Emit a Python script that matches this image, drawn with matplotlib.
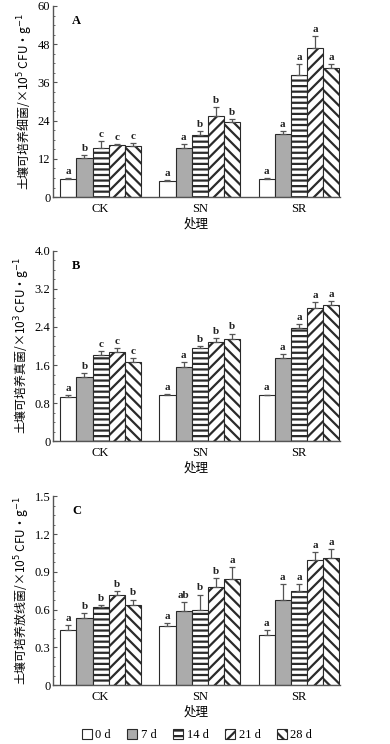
import matplotlib
matplotlib.use("Agg")
import matplotlib.pyplot as plt
import numpy as np
from matplotlib.ticker import MultipleLocator, AutoMinorLocator, FuncFormatter

plt.rcParams['font.family'] = ['Liberation Serif', 'Noto Sans CJK SC', 'DejaVu Sans']
plt.rcParams['hatch.linewidth'] = 1.6

groups = ['CK', 'SN', 'SR']
days = ['0 d', '7 d', '14 d', '21 d', '28 d']

# Panel A: bacteria
a_vals = [[5.8, 12.3, 15.4, 16.3, 16.2],
          [5.2, 15.4, 19.6, 25.6, 23.6],
          [5.8, 19.7, 38.3, 46.9, 40.6]]
a_err = [[0.2, 1.0, 2.2, 0.3, 0.8],
         [0.3, 1.2, 1.2, 2.7, 0.8],
         [0.2, 1.1, 3.4, 3.8, 1.1]]
a_sig = [['a', 'b', 'c', 'c', 'c'],
         ['a', 'a', 'b', 'b', 'b'],
         ['a', 'a', 'a', 'a', 'a']]

# Panel B: fungi
b_vals = [[0.93, 1.35, 1.81, 1.87, 1.67],
          [0.97, 1.56, 1.96, 2.09, 2.15],
          [0.96, 1.75, 2.38, 2.80, 2.85]]
b_err = [[0.03, 0.08, 0.08, 0.09, 0.08],
         [0.02, 0.11, 0.03, 0.08, 0.11],
         [0.02, 0.08, 0.08, 0.12, 0.10]]
b_sig = [['a', 'b', 'c', 'c', 'c'],
         ['a', 'a', 'b', 'b', 'b'],
         ['a', 'a', 'a', 'a', 'a']]

# Panel C: actinomycetes
c_vals = [[0.44, 0.53, 0.62, 0.72, 0.64],
          [0.47, 0.59, 0.60, 0.78, 0.84],
          [0.40, 0.68, 0.75, 0.99, 1.01]]
c_err = [[0.04, 0.04, 0.02, 0.03, 0.04],
         [0.02, 0.07, 0.12, 0.07, 0.10],
         [0.04, 0.12, 0.05, 0.07, 0.07]]
c_sig = [['a', 'b', 'b', 'b', 'b'],
         ['a', 'ab', 'b', 'b', 'a'],
         ['a', 'a', 'a', 'a', 'a']]

ylabels = ['土壤可培养细菌/×10$^5$ CFU·g$^{-1}$',
           '土壤可培养真菌/×10$^3$ CFU·g$^{-1}$',
           '土壤可培养放线菌/×10$^5$ CFU·g$^{-1}$']
panel_letters = ['A', 'B', 'C']
ylims = [60, 4.0, 1.5]
ysteps = [12, 0.8, 0.3]

faces = ['white', '#ababab', 'white', 'white', 'white']
hatches = [None, None, '---', '///', '\\\\\\']
edge = '#2a2a2a'

fig = plt.figure(figsize=(3.9, 7.44), dpi=100)
axes_pos = [[0.136, 0.735, 0.736, 0.257],
            [0.136, 0.407, 0.736, 0.256],
            [0.136, 0.079, 0.736, 0.254]]

datasets = [(a_vals, a_err, a_sig), (b_vals, b_err, b_sig), (c_vals, c_err, c_sig)]
x = np.arange(len(groups))
w = 0.163
handles = []
for pi, (vals, errs, sigs) in enumerate(datasets):
    ax = fig.add_axes(axes_pos[pi])
    vals = np.array(vals)
    errs = np.array(errs)
    for di in range(len(days)):
        xs = x + (di - 2) * w
        bars = ax.bar(xs, vals[:, di], w, color=faces[di], edgecolor=edge,
                      linewidth=0.8, hatch=hatches[di], label=days[di], zorder=2)
        ax.errorbar(xs, vals[:, di], yerr=[np.zeros(3), errs[:, di]], fmt='none',
                    ecolor='#555555', elinewidth=0.9, capsize=2.2, capthick=0.9, zorder=3)
        for gi in range(len(groups)):
            ax.annotate(sigs[gi][di], (xs[gi], vals[gi, di] + errs[gi, di]),
                        xytext=(0, 1.5), textcoords='offset points',
                        ha='center', va='bottom', fontsize=8, fontweight='bold',
                        color='#222222')
        if pi == 0:
            handles.append(bars)
    ax.set_xlim(-0.48, 2.415)
    ax.set_ylim(0, ylims[pi])
    ax.yaxis.set_major_locator(MultipleLocator(ysteps[pi]))
    ax.yaxis.set_minor_locator(AutoMinorLocator(4))
    if pi == 0:
        fmt = FuncFormatter(lambda v, p: '0' if abs(v) < 1e-9 else f'{v:.0f}')
    else:
        fmt = FuncFormatter(lambda v, p: '0' if abs(v) < 1e-9 else f'{v:.1f}')
    ax.yaxis.set_major_formatter(fmt)
    ax.set_xticks(x)
    ax.set_xticklabels(groups, fontsize=9)
    ax.tick_params(axis='x', length=0, pad=4)
    ax.tick_params(axis='y', which='major', direction='in', length=3, width=0.8,
                   color='#555555', labelsize=9, pad=2)
    ax.tick_params(axis='y', which='minor', direction='in', length=1.5, width=0.6,
                   color='#555555')
    for s in ['top', 'right']:
        ax.spines[s].set_visible(False)
    for s in ['left', 'bottom']:
        ax.spines[s].set_color('#555555')
        ax.spines[s].set_linewidth(1.0)
    ax.set_xlabel('处理', fontsize=9, labelpad=2,
                  family=['Noto Sans CJK SC', 'DejaVu Sans'])
    ax.set_ylabel(ylabels[pi], fontsize=8.6, labelpad=2,
                  family=['Noto Sans CJK SC', 'DejaVu Sans'])
    ax.text(0.066, 0.92, panel_letters[pi], transform=ax.transAxes,
            fontsize=9, fontweight='bold', ha='left', va='center')

fig.legend(handles=handles, labels=days, loc='center', bbox_to_anchor=(0.505, 0.012),
           ncol=5, frameon=False, fontsize=9, handlelength=0.8, handleheight=0.9,
           handletextpad=0.3, columnspacing=1.3, borderpad=0.1)

fig.savefig('out.png', dpi=100)
